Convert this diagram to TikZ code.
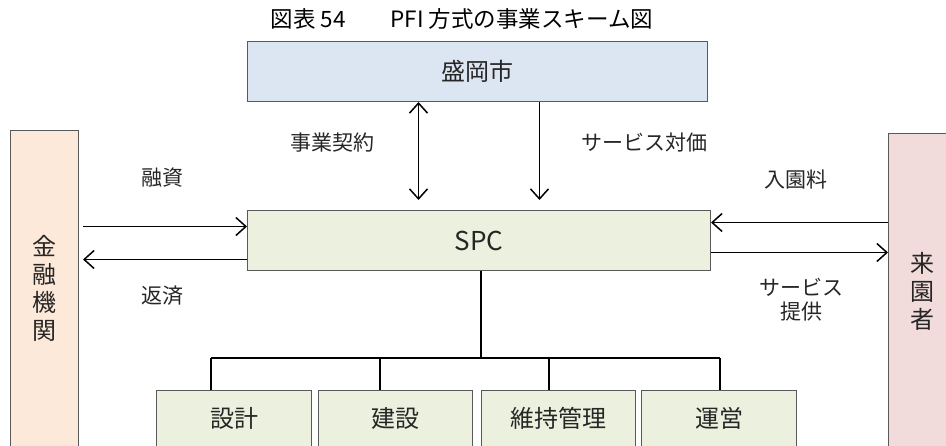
\documentclass[tikz,border=0pt]{standalone}
\usepackage{fontspec}
\setmainfont{Noto Sans CJK JP}
\usetikzlibrary{arrows.meta}
\definecolor{cityfill}{HTML}{DCE6F2}
\definecolor{greenfill}{HTML}{EBF1DE}
\definecolor{bankfill}{HTML}{FDE9D9}
\definecolor{visitfill}{HTML}{F2DCDB}
\definecolor{boxline}{HTML}{595959}
\definecolor{txt}{HTML}{262626}
\begin{document}
\begin{tikzpicture}[x=1pt,y=-1pt,
  box/.style={draw=boxline, line width=1pt, inner sep=0pt, anchor=north west, text=txt},
  lbl/.style={text=txt, inner sep=0pt, font=\fontsize{21}{24}\selectfont, align=center},
  vlbl/.style={text=txt, inner sep=0pt, font=\fontsize{24}{28}\selectfont, align=center},
  arr/.style={line width=1.5pt, -{Straight Barb[length=10pt,width=18pt,line width=1.5pt]}},
  darr/.style={line width=1.5pt, {Straight Barb[length=10pt,width=18pt,line width=1.5pt]}-{Straight Barb[length=10pt,width=18pt,line width=1.5pt]}},
  tree/.style={line width=1.5pt}]
\useasboundingbox (0,0) rectangle (946,445);
\clip (0,0) rectangle (946,445);

% title
\node[inner sep=0pt, font=\fontsize{22.5}{26}\selectfont] (title) at (462,19) {図表 54\quad\quad PFI 方式の事業スキーム図};

% boxes
\node[box, fill=cityfill, minimum width=460pt, minimum height=60pt, font=\fontsize{24}{28}\selectfont] (city) at (247,41) {盛岡市};
\node[box, fill=greenfill, minimum width=463pt, minimum height=60pt, font=\fontsize{26}{30}\selectfont] (spc) at (247,210) {SPC};
\node[box, fill=bankfill, minimum width=68pt, minimum height=316pt] (bank) at (10,130) {};
\node[vlbl] at (bank.center) {金\\融\\機\\関};
\node[box, fill=visitfill, minimum width=68pt, minimum height=313pt] (visitor) at (888,133) {};
\node[vlbl] at ([yshift=-1pt]visitor.center) {来\\園\\者};

\node[box, fill=greenfill, minimum width=155pt, minimum height=56pt, font=\fontsize{24}{28}\selectfont] (b1) at (156,390) {設計};
\node[box, fill=greenfill, minimum width=154pt, minimum height=56pt, font=\fontsize{24}{28}\selectfont] (b2) at (318,390) {建設};
\node[box, fill=greenfill, minimum width=154pt, minimum height=56pt, font=\fontsize{24}{28}\selectfont] (b3) at (481,390) {維持管理};
\node[box, fill=greenfill, minimum width=155pt, minimum height=56pt, font=\fontsize{24}{28}\selectfont] (b4) at (641,390) {運営};

% helper coordinates
\coordinate (l1) at ([yshift=14pt]spc.west);
\coordinate (l2) at ([yshift=-19pt]spc.west);
\coordinate (r1) at ([yshift=18pt]spc.east);
\coordinate (r2) at ([yshift=-12pt]spc.east);
\coordinate (v1) at ([xshift=-60.5pt]spc.north);
\coordinate (v2) at ([xshift=60.5pt]spc.north);
\coordinate (hub) at (481,358);
\coordinate (d1) at (211,358);
\coordinate (d2) at (380,358);
\coordinate (d3) at (549,358);
\coordinate (d4) at (720,358);

% arrows
\draw[arr, shorten <=4pt] (l1 -| bank.east) -- (l1);
\draw[arr, shorten >=4pt] (l2) -- (l2 -| bank.east);
\draw[arr] (r1 -| visitor.west) -- (r1);
\draw[arr] (r2) -- (r2 -| visitor.west);
\draw[darr, shorten >=10pt] (v1 |- city.south) -- (v1);
\draw[arr, shorten >=10pt] (v2 |- city.south) -- (v2);

% tree
\draw[tree] (hub |- spc.south) -- (hub);
\draw[tree] (d1) -- (d4);
\draw[tree] (d1) -- (d1 |- b1.north);
\draw[tree] (d2) -- (d2 |- b2.north);
\draw[tree] (d3) -- (d3 |- b3.north);
\draw[tree] (d4) -- (d4 |- b4.north);

% labels
\node[lbl] (t1) at (162,178) {融資};
\node[lbl] (t2) at (162,296) {返済};
\node[lbl] (t3) at (332,143) {事業契約};
\node[lbl] (t4) at (644,143) {サービス対価};
\node[lbl] (t5) at (796,180) {入園料};
\node[lbl] (t6) at (801,300) {サービス\\提供};
\end{tikzpicture}
\end{document}
